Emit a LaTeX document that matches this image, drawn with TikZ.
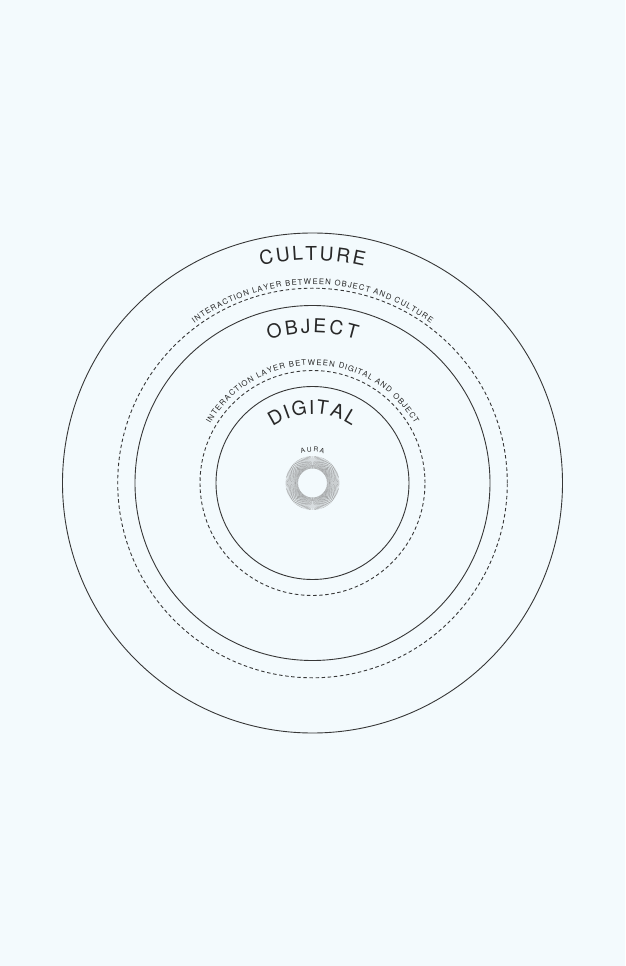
\documentclass[tikz,border=0pt]{standalone}
\usepackage{fontspec}
\setmainfont{TeX Gyre Heros}
\usetikzlibrary{decorations.text}
\definecolor{bg}{RGB}{243,250,253}
\definecolor{ink}{RGB}{55,55,55}
\definecolor{txt}{RGB}{40,40,40}
\definecolor{auragray}{RGB}{130,130,130}
\newcommand\bigfmt{\fontsize{19.2}{21}\selectfont}
\newcommand\smallfmt{\fontsize{7.7}{9}\selectfont}
\newcommand\tinyfmt{\fontsize{6.6}{8}\selectfont}
\begin{document}
\begin{tikzpicture}[x=1pt,y=1pt,
 ring/.style={draw=ink, line width=0.9pt},
 layer/.style={draw=ink, line width=0.9pt, dash pattern=on 3.5pt off 2.6pt},
 rays/.style={draw=auragray, line width=0.28pt},
 arctext/.style 2 args={decorate, decoration={text effects along path, text={#2},
   text effects/.cd, text along path, fit text to path,
   characters={text=txt, font=#1, inner sep=0pt}}}]
\fill[bg] (-312.5,-483) rectangle (312.5,483);
\useasboundingbox (-312.5,-483) rectangle (312.5,483);
\coordinate (c) at (0,0);
% rings
\draw[ring] (c) circle[radius=250];
\draw[layer] (c) circle[radius=194.8];
\draw[ring] (c) circle[radius=177.5];
\draw[layer] (c) circle[radius=112.5];
\draw[ring] (c) circle[radius=96.5];
% aura
\foreach \a in {1.25,3.75,...,360} \draw[rays] (\a:14.5) -- (\a:27);
% labels
\path[arctext={\bigfmt}{CULTURE}] (103.4:223) arc[start angle=103.4, end angle=76.6, radius=223];
\path[arctext={\smallfmt}{INTERACTION LAYER BETWEEN OBJECT AND CULTURE}] (126.5:198.5) arc[start angle=126.5, end angle=53.5, radius=198.5];
\path[arctext={\bigfmt}{OBJECT}] (107:150) arc[start angle=107, end angle=73, radius=150];
\path[arctext={\smallfmt}{INTERACTION LAYER BETWEEN DIGITAL AND OBJECT}] (150:118) arc[start angle=150, end angle=30, radius=118];
\path[arctext={\bigfmt}{DIGITAL}] (125:69) arc[start angle=125, end angle=55, radius=69];
\path[arctext={\tinyfmt}{AURA}] (111:31) arc[start angle=111, end angle=69, radius=31];
\end{tikzpicture}
\end{document}
